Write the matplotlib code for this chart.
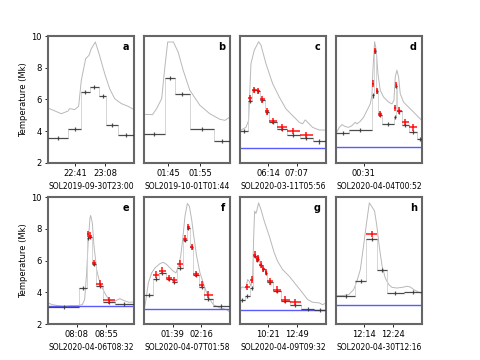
import numpy as np
import matplotlib.pyplot as plt

# times are minutes from the left edge of each panel
labels = ['a', 'b', 'c', 'd', 'e', 'f', 'g', 'h']
events = ['SOL2019-09-30T23:00', 'SOL2019-10-01T01:44', 'SOL2020-03-11T05:56', 'SOL2020-04-04T00:52',
          'SOL2020-04-06T08:32', 'SOL2020-04-07T01:58', 'SOL2020-04-09T09:32', 'SOL2020-04-30T12:16']
xmax = [78.3, 27.2, 160.9, 103.2, 137.8, 112.2, 438.9, 29.6]
tick_pos = [[24.9, 51.9], [7.7, 17.7], [53, 106], [33.6], [45.9, 92.9], [37.4, 74.4], [144.6, 292.6], [9.8, 19.8]]
tick_lab = [['22:41', '23:08'], ['01:45', '01:55'], ['06:14', '07:07'], ['00:31'],
            ['08:08', '08:55'], ['01:39', '02:16'], ['10:21', '12:49'], ['12:14', '12:24']]
background = [None, None, 2.95, 3.02, 3.14, 2.95, 2.91, 3.18]

nan = np.nan
edges_a = [0, 18.2, 30.3, 37.9, 46.4, 53.1, 63.7, 78.3]
black_a = [3.59, 4.12, 6.45, 6.79, 6.2, 4.39, 3.76]
red_a = [nan] * 7
t_a = [0, 12.1, 18.2, 19.7, 24.3, 27.9, 30.3, 34.3, 37.3, 39.4, 43.1, 46.4, 51.6, 56.1, 60.7, 66.7, 72.8, 78.3]
c_a = [5.46, 5.1, 5.27, 5.42, 5.36, 5.57, 7.2, 8.57, 8.78, 9.2, 9.62, 8.9, 7.63, 6.68, 6.05, 5.74, 5.57, 5.36]

edges_b = [0, 6.5, 9.8, 14.5, 22.2, 27.2]
black_b = [3.80, 7.37, 6.32, 4.12, 3.38]
red_b = [nan] * 5
t_b = [0, 2.7, 4.0, 5.6, 6.5, 7.5, 9.3, 10.8, 12.4, 14.5, 17.7, 20.8, 24.0, 25.6, 27.2]
c_b = [5.06, 5.04, 5.42, 6.05, 7.84, 9.62, 9.62, 8.99, 7.84, 6.58, 5.63, 5.1, 4.75, 4.68, 4.9]

edges_c = [0, 15.6, 21.8, 31.2, 38.0, 46.1, 54.9, 69.8, 87.3, 112.2, 135.9, 160.9]
black_c = [4.03, 5.89, 6.57, 6.53, 5.94, 5.2, 4.56, 4.14, 3.78, 3.55, 3.35]
red_c = [nan, 6.08, 6.6, 6.55, 6.0, 5.25, 4.62, 4.24, 3.99, 3.76, nan]
t_c = [0, 11.2, 16.2, 20.6, 26.8, 34.9, 39.3, 48.6, 61.1, 73.6, 86.0, 98.5, 111.0, 117.2, 122.2, 126.6,
       135.9, 148.4, 160.9]
c_c = [4.03, 4.24, 4.67, 8.26, 9.1, 9.64, 9.43, 8.26, 7.0, 6.15, 5.41, 4.98, 4.56, 4.46, 4.71, 4.56,
       4.24, 4.07, 4.07]

edges_d = [0, 16, 42.8, 45.2, 47.6, 50, 54.8, 69.6, 71.6, 73.6, 78.8, 88, 97.6, 103.2]
black_d = [3.86, 4.07, 6.25, 9.07, 6.51, 5.05, 4.46, 4.92, 6.83, 5.24, 4.39, 3.93, 3.5]
red_d = [nan, nan, 7.0, 9.07, 6.55, 5.09, nan, 5.45, 6.93, 5.3, 4.56, 4.24, nan]
t_d = [0, 4, 7.2, 11.2, 15.2, 19.2, 23.2, 25.2, 29.2, 33.2, 37.2, 41.2, 43.2, 44.4, 46.4, 48.4, 50.4,
       53.2, 57.2, 63.2, 67.2, 69.6, 71.2, 73.2, 75.2, 77.2, 81.2, 87.2, 93.2, 99.2, 103.2]
c_d = [3.82, 4.24, 4.41, 4.29, 4.24, 4.35, 4.56, 4.46, 4.62, 4.88, 5.3, 5.72, 6.25, 7.84, 9.64, 9.11, 7.63,
       6.57, 6.15, 5.83, 5.72, 5.94, 7.42, 7.84, 7.42, 6.36, 5.83, 5.51, 5.2, 4.88, 4.67]

edges_e = [0, 49.7, 61.9, 66.2, 69.9, 77.4, 88.6, 106.8, 137.8]
black_e = [3.07, 4.25, 7.43, 7.49, 5.81, 4.42, 3.39, 3.28]
red_e = [nan, nan, 7.68, 7.58, 5.85, 4.55, 3.49, nan]
t_e = [0, 6.9, 15.0, 25.6, 36.3, 47.0, 55.0, 58.7, 61.9, 64.6, 67.3, 68.4, 71.0, 73.7, 78.0, 81.7, 87.0,
       92.4, 97.7, 103.1, 108.4, 115.3, 121.8, 129.8, 137.8]
c_e = [3.33, 3.22, 3.16, 3.12, 3.16, 3.16, 3.22, 3.54, 5.22, 7.33, 8.69, 8.84, 8.38, 6.91, 5.43, 4.8, 4.27,
       3.85, 3.54, 3.43, 3.47, 3.6, 3.47, 3.37, 3.39]

edges_f = [0, 12.2, 19.6, 28.7, 36.1, 43.5, 51.3, 55.7, 60.0, 64.4, 71.8, 78.7, 89.6, 112.2]
black_f = [3.85, 4.84, 5.22, 4.84, 4.63, 5.54, 7.28, 8.06, 6.86, 5.12, 4.34, 3.58, 3.12]
red_f = [nan, 5.12, 5.37, 4.91, 4.76, 5.81, 7.39, 8.1, 6.86, 5.16, 4.48, 3.85, nan]
t_f = [0, 2.6, 5.7, 10.0, 14.4, 20.9, 25.2, 29.6, 33.9, 38.3, 41.8, 44.8, 47.9, 50.5, 53.5, 56.6, 59.2,
       62.2, 64.4, 68.7, 73.1, 77.4, 81.8, 86.1, 90.5, 99.2, 107.9, 112.2]
c_f = [2.8, 3.54, 4.59, 5.22, 5.54, 5.81, 5.89, 5.75, 5.54, 5.33, 5.22, 5.64, 6.27, 7.33, 8.8, 9.6, 9.43,
       8.59, 7.75, 6.27, 5.22, 4.59, 3.96, 3.54, 3.22, 3.01, 2.91, 2.74]

edges_g = [0, 25.5, 51.0, 68.0, 81.6, 90.1, 98.6, 113.9, 125.9, 139.5, 166.7, 209.2, 255.2, 311.3, 379.3, 438.9]
black_g = [3.54, 3.79, 4.25, 6.27, 6.06, 6.13, 5.71, 5.47, 5.22, 4.65, 4.06, 3.43, 3.22, 2.95, 2.91]
red_g = [nan, 4.34, 4.8, 6.38, 6.11, 6.17, 5.75, 5.49, 5.26, 4.69, 4.17, 3.54, 3.37, nan, nan]
t_g = [0, 13.6, 30.6, 39.1, 47.6, 56.1, 64.6, 69.7, 74.8, 81.6, 86.8, 95.3, 107.2, 124.2, 149.7, 175.2,
       192.2, 217.7, 251.7, 285.8, 319.8, 345.3, 370.8, 404.8, 421.8, 438.9]
c_g = [4.21, 4.34, 4.27, 4.8, 4.69, 4.38, 4.91, 7.33, 9.12, 8.97, 9.18, 9.64, 9.22, 8.48, 7.54, 6.48,
       5.96, 5.43, 5.01, 4.48, 3.96, 3.54, 3.37, 3.33, 3.22, 3.33]

edges_h = [0, 6.7, 10.5, 14.1, 17.6, 23.3, 29.6]
black_h = [3.75, 4.69, 7.37, 5.39, 3.96, 4.0]
red_h = [nan, nan, 7.68, nan, nan, nan]
t_h = [0, 2.1, 4.4, 6.1, 7.2, 8.4, 9.5, 10.7, 11.5, 12.4, 13.3, 14.1, 14.9, 15.9, 17.0, 18.2, 19.3, 21.0,
       22.8, 24.5, 25.6, 26.8, 28.5, 29.6]
c_h = [3.79, 3.79, 3.85, 4.17, 4.69, 5.43, 6.91, 8.59, 9.64, 9.39, 9.12, 8.17, 6.91, 5.64, 4.9, 4.48, 4.31,
       4.27, 4.31, 4.38, 4.33, 4.17, 4.0, 3.92]

panels = [(edges_a, black_a, red_a, t_a, c_a), (edges_b, black_b, red_b, t_b, c_b),
          (edges_c, black_c, red_c, t_c, c_c), (edges_d, black_d, red_d, t_d, c_d),
          (edges_e, black_e, red_e, t_e, c_e), (edges_f, black_f, red_f, t_f, c_f),
          (edges_g, black_g, red_g, t_g, c_g), (edges_h, black_h, red_h, t_h, c_h)]

fig, axes = plt.subplots(2, 4, figsize=(4.8, 3.6), dpi=100)
fig.subplots_adjust(left=0.1, right=0.879, bottom=0.1, top=0.9, wspace=0.116, hspace=0.27)

for i, ax in enumerate(axes.flat):
    edges, black, red, t, curve = panels[i]
    edges = np.array(edges)
    mid = (edges[:-1] + edges[1:]) / 2
    half = np.diff(edges) / 2

    ax.plot(t, curve, color='#b8b8b8', lw=0.7, zorder=1)
    ax.stairs(black, edges, baseline=None, color='#cfcfcf', lw=0.6, zorder=1)
    if background[i] is not None:
        ax.axhline(background[i], color='#5a5aff', lw=1.0, zorder=2)
    ax.errorbar(mid, black, xerr=half, yerr=0.13, fmt='none', ecolor='#333333',
                elinewidth=0.9, alpha=0.85, zorder=3)
    ax.errorbar(mid, red, xerr=half, yerr=0.2, fmt='none', ecolor='red',
                elinewidth=1.2, alpha=0.85, zorder=4)

    ax.set_xlim(0, xmax[i])
    ax.set_ylim(2, 10)
    ax.set_yticks([2, 4, 6, 8, 10])
    ax.set_xticks(tick_pos[i])
    ax.set_xticklabels(tick_lab[i])
    ax.tick_params(labelsize=6, length=2.5, width=0.6, pad=2)
    if i % 4 == 0:
        ax.set_ylabel('Temperature (Mk)', fontsize=6, labelpad=2)
    else:
        ax.tick_params(left=False, labelleft=False)
    ax.set_xlabel(events[i], fontsize=5.5, labelpad=2.5)
    for s in ax.spines.values():
        s.set_color('#666666')
        s.set_linewidth(1.5)
    ax.text(0.94, 0.95, labels[i], transform=ax.transAxes, ha='right', va='top',
            fontsize=7, fontweight='bold')

fig.savefig('out.png')
